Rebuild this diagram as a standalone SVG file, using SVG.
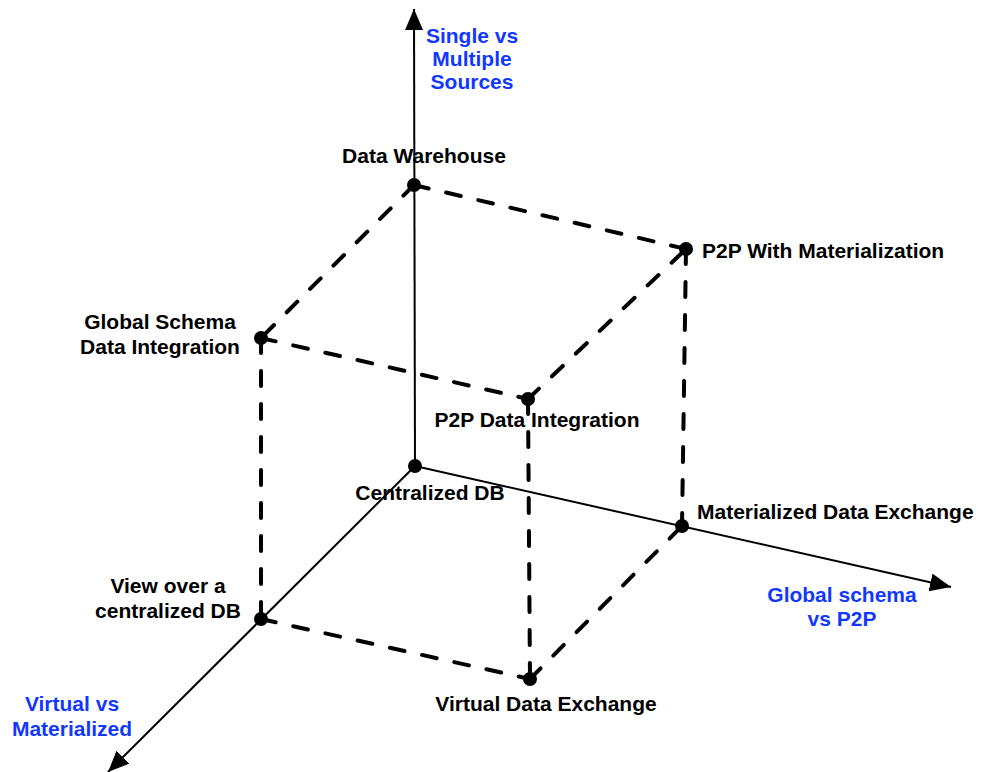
<svg xmlns="http://www.w3.org/2000/svg" width="982" height="772" viewBox="0 0 982 772">
  <style>
    .axis { stroke: #000; stroke-width: 2; fill: none; }
    .edge { stroke: #000; stroke-width: 4; fill: none; stroke-dasharray: 15 18; stroke-linecap: round; }
    .dot { fill: #000; }
    text { font-family: "Liberation Sans", Arial, Helvetica, sans-serif; font-weight: bold; font-size: 21px; }
    .lbl { fill: #000; }
    .axlbl { fill: #1238ff; text-anchor: middle; }
    .mid { text-anchor: middle; }
  </style>
  <defs>
    <marker id="arrow" markerUnits="userSpaceOnUse" markerWidth="24" markerHeight="20" refX="21" refY="9" orient="auto">
      <path d="M0,0 L21,9 L0,18 Z" fill="#000"/>
    </marker>
  </defs>
  <rect width="982" height="772" fill="#fff"/>

  <!-- axes -->
  <g id="axes">
    <line class="axis" x1="415" y1="466" x2="414" y2="9" marker-end="url(#arrow)"/>
    <line class="axis" x1="415" y1="466" x2="951" y2="587" marker-end="url(#arrow)"/>
    <line class="axis" x1="415" y1="466" x2="108" y2="772" marker-end="url(#arrow)"/>
  </g>

  <!-- dashed cube edges -->
  <g id="connectors">
    <line class="edge" x1="414" y1="185" x2="686" y2="249"/>
    <line class="edge" x1="414" y1="185" x2="261" y2="338"/>
    <line class="edge" x1="261" y1="338" x2="528" y2="399"/>
    <line class="edge" x1="528" y1="399" x2="686" y2="249"/>
    <line class="edge" x1="686" y1="249" x2="682" y2="526"/>
    <line class="edge" x1="261" y1="338" x2="261" y2="619"/>
    <line class="edge" x1="528" y1="399" x2="530" y2="679"/>
    <line class="edge" x1="261" y1="619" x2="530" y2="679"/>
    <line class="edge" x1="530" y1="679" x2="682" y2="526"/>
  </g>

  <!-- axis captions -->
  <g id="axis-labels">
    <text class="axlbl" x="472" y="43">Single vs</text>
    <text class="axlbl" x="472" y="66">Multiple</text>
    <text class="axlbl" x="472" y="89">Sources</text>
    <text class="axlbl" x="842" y="602">Global schema</text>
    <text class="axlbl" x="842" y="626">vs P2P</text>
    <text class="axlbl" x="72" y="711">Virtual vs</text>
    <text class="axlbl" x="72" y="736">Materialized</text>
  </g>

  <!-- points -->
  <g id="centralized-db">
    <circle class="dot" cx="415" cy="466" r="7"/>
    <text class="lbl mid" x="430" y="500">Centralized DB</text>
  </g>
  <g id="data-warehouse">
    <circle class="dot" cx="414" cy="185" r="7"/>
    <text class="lbl mid" x="424" y="163">Data Warehouse</text>
  </g>
  <g id="p2p-materialization">
    <circle class="dot" cx="686" cy="249" r="7"/>
    <text class="lbl" x="702" y="258">P2P With Materialization</text>
  </g>
  <g id="global-schema-integration">
    <circle class="dot" cx="261" cy="338" r="7"/>
    <text class="lbl mid" x="160" y="329">Global Schema</text>
    <text class="lbl mid" x="160" y="354">Data Integration</text>
  </g>
  <g id="p2p-data-integration">
    <circle class="dot" cx="528" cy="399" r="7"/>
    <text class="lbl mid" x="537" y="427">P2P Data Integration</text>
  </g>
  <g id="materialized-exchange">
    <circle class="dot" cx="682" cy="526" r="7"/>
    <text class="lbl" x="697" y="519">Materialized Data Exchange</text>
  </g>
  <g id="view-centralized">
    <circle class="dot" cx="261" cy="619" r="7"/>
    <text class="lbl mid" x="168" y="593">View over a</text>
    <text class="lbl mid" x="168" y="618">centralized DB</text>
  </g>
  <g id="virtual-exchange">
    <circle class="dot" cx="530" cy="679" r="7"/>
    <text class="lbl mid" x="546" y="711">Virtual Data Exchange</text>
  </g>
</svg>
